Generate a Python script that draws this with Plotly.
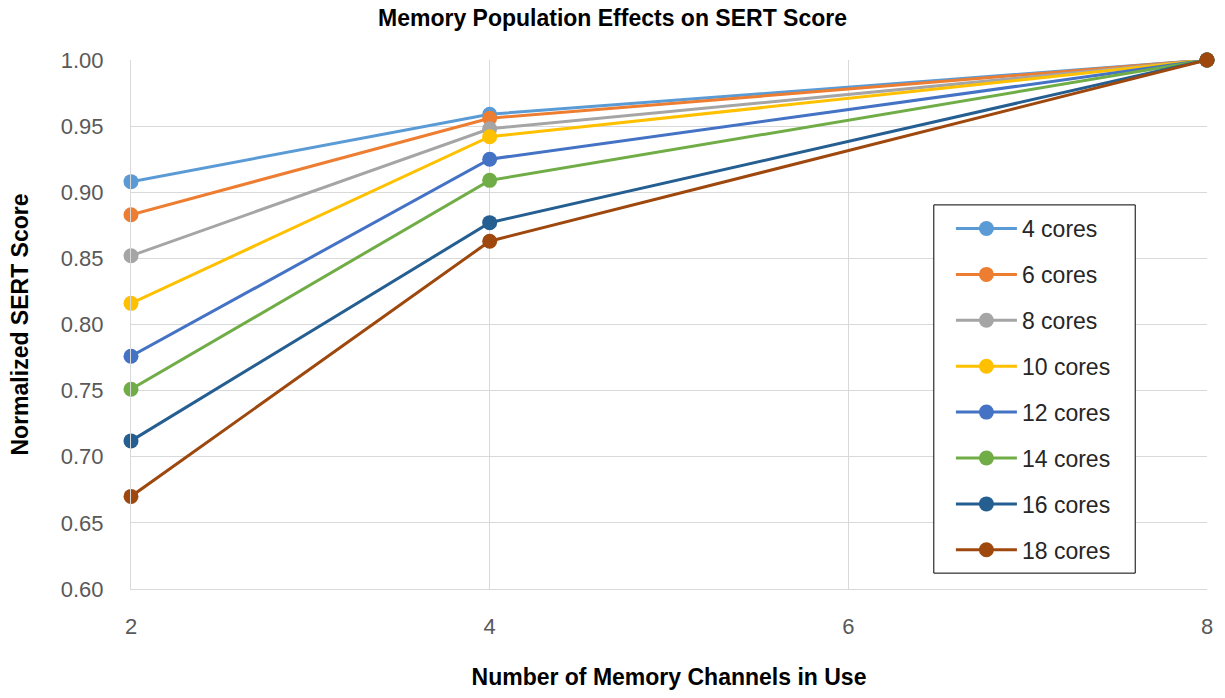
import plotly.graph_objects as go

channels = [2, 4, 8]
series_names = ["4 cores", "6 cores", "8 cores", "10 cores", "12 cores", "14 cores", "16 cores", "18 cores"]
values = {
    "4 cores":  [0.908, 0.959, 1.0],
    "6 cores":  [0.883, 0.956, 1.0],
    "8 cores":  [0.852, 0.948, 1.0],
    "10 cores": [0.816, 0.942, 1.0],
    "12 cores": [0.776, 0.925, 1.0],
    "14 cores": [0.751, 0.909, 1.0],
    "16 cores": [0.712, 0.877, 1.0],
    "18 cores": [0.670, 0.863, 1.0],
}
colors = ["#5B9BD5", "#ED7D31", "#A5A5A5", "#FFC000", "#4472C4", "#70AD47", "#255E91", "#9E480E"]
x_ticks = [2, 4, 6, 8]
y_ticks = [0.60, 0.65, 0.70, 0.75, 0.80, 0.85, 0.90, 0.95, 1.00]

TXT = "Liberation Sans, Arial, sans-serif"

fig = go.Figure()
for i, name in enumerate(series_names):
    fig.add_trace(go.Scatter(
        x=channels, y=values[name], name=name, mode="lines+markers",
        line=dict(color=colors[i], width=3),
        marker=dict(color=colors[i], size=15),
        legendgroup=name,
    ))

# legend frame
fig.add_shape(type="rect", xref="paper", yref="paper",
              x0=0.7461, x1=0.9333, y0=0.030, y1=0.7261,
              line=dict(color="black", width=1), fillcolor="white", layer="above")

fig.update_layout(
    width=1225, height=698,
    margin=dict(l=131, r=15, t=60, b=105),
    paper_bgcolor="white", plot_bgcolor="white",
    font=dict(family=TXT, color="#595959"),
    title=dict(text="<b>Memory Population Effects on SERT Score</b>",
               x=0.5, xanchor="center", xref="container", yref="container",
               y=1 - 18 / 698, yanchor="middle",
               font=dict(size=23, color="black", family=TXT)),
    xaxis=dict(range=[2, 8], tickvals=x_ticks, showgrid=True, gridcolor="#D9D9D9", gridwidth=1,
               zeroline=False, showline=True, linecolor="#D9D9D9", ticks="",
               ticklabelstandoff=18,
               tickfont=dict(size=22, color="#595959", family=TXT),
               title=dict(text="<b>Number of Memory Channels in Use</b>", standoff=30,
                          font=dict(size=23, color="black", family=TXT))),
    yaxis=dict(range=[0.60, 1.00], tickvals=y_ticks, tickformat=".2f", showgrid=True,
               gridcolor="#D9D9D9", gridwidth=1, zeroline=False, showline=True, linecolor="#D9D9D9",
               ticks="", ticklabelstandoff=22,
               tickfont=dict(size=22, color="#595959", family=TXT),
               title=dict(text="<b>Normalized SERT Score</b>", standoff=25,
                          font=dict(size=23, color="black", family=TXT))),
    legend=dict(x=0.762, y=0.722, xanchor="left", yanchor="top",
                borderwidth=0, bgcolor="rgba(0,0,0,0)",
                font=dict(size=23, color="#262626", family=TXT), tracegroupgap=13,
                traceorder="grouped", itemwidth=61),
    showlegend=True,
)
fig.update_traces(cliponaxis=False)

fig.write_html("out.html", config={"displayModeBar": False},
               post_script="document.body.style.margin='0px';document.body.style.overflow='hidden';")
